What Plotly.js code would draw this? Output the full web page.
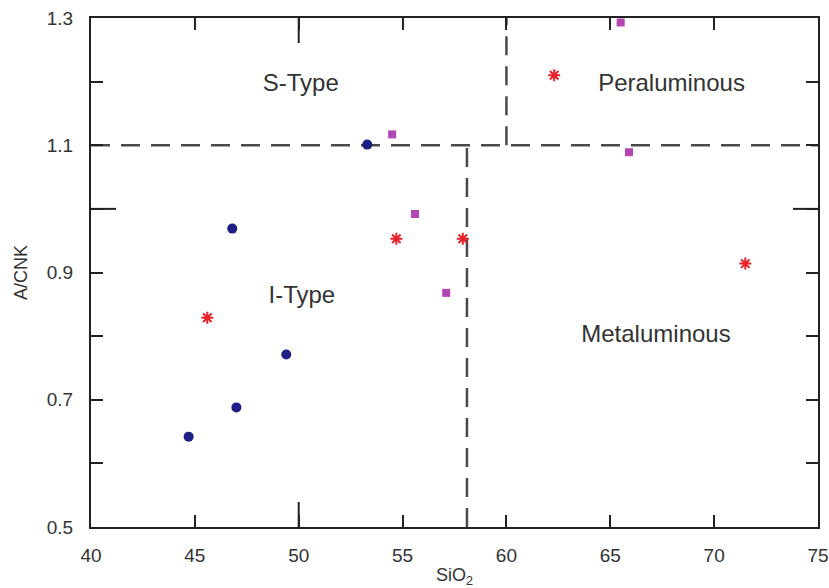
<!DOCTYPE html>
<html>
<head>
<meta charset="utf-8">
<script src="https://cdn.plot.ly/plotly-3.0.1.min.js"></script>
<style>html,body{margin:0;padding:0;background:#fff;}#chart{width:829px;height:588px;}</style>
</head>
<body>
<div id="chart"></div>
<script>
// Series values
const circleX = [44.7, 47.0, 49.4, 46.8, 53.3];
const circleY = [0.642, 0.688, 0.771, 0.969, 1.101];

const squareX = [54.5, 55.6, 57.1, 65.5, 65.9];
const squareY = [1.117, 0.992, 0.868, 1.293, 1.089];

const starX = [45.6, 54.7, 57.9, 62.3, 71.5];
const starY = [0.829, 0.953, 0.953, 1.210, 0.914];

// Classification boundaries
const boundH_X = [40, 75];      const boundH_Y = [1.1, 1.1];
const boundV1_X = [60, 60];     const boundV1_Y = [1.1, 1.3];
const boundV2_X = [58.1, 58.1]; const boundV2_Y = [0.5, 1.1];

// Field labels
const fieldNames = ['S-Type', 'Peraluminous', 'I-Type', 'Metaluminous'];
const fieldX = [50.1, 67.95, 50.15, 67.2];
const fieldY = [1.195, 1.195, 0.861, 0.800];

// Axis ticks
const xTicks = [40, 45, 50, 55, 60, 65, 70, 75];
const xTickText = ['40', '45', '50', '55', '60', '65', '70', '75'];
const yTicks = [0.5, 0.7, 0.9, 1.1, 1.3];
const yTickText = ['0.5', '0.7', '0.9', '1.1', '1.3'];
const yMinorTicks = [0.6, 0.8, 1.0, 1.2];

const dashStyle = {color: '#4a4a4a', width: 2.5, dash: '19px,11px'};
const FONT = 'Liberation Sans, Arial, sans-serif';

const traces = [
  {x: boundH_X, y: boundH_Y, mode: 'lines', line: dashStyle, hoverinfo: 'skip', showlegend: false},
  {x: boundV1_X, y: boundV1_Y, mode: 'lines', line: dashStyle, hoverinfo: 'skip', showlegend: false},
  {x: boundV2_X, y: boundV2_Y, mode: 'lines', line: dashStyle, hoverinfo: 'skip', showlegend: false},
  {x: circleX, y: circleY, mode: 'markers', showlegend: false,
   marker: {symbol: 'circle', size: 10, color: '#1e1e85'}},
  {x: squareX, y: squareY, mode: 'markers', showlegend: false,
   marker: {symbol: 'square', size: 8, color: '#b445b4'}},
  {x: starX, y: starY, mode: 'markers', showlegend: false,
   marker: {symbol: 'asterisk-open', size: 10, color: '#e8202a', line: {color: '#e8202a', width: 2}}},
  {x: fieldX, y: fieldY, mode: 'text', text: fieldNames, showlegend: false, hoverinfo: 'skip',
   textfont: {family: FONT, size: 24, color: '#333'}, textposition: 'middle center', cliponaxis: false}
];

// long ticks at x=50 and y=1.0 (about 25px), as fractions of the 727x509 plot area
const LX = 25 / 727, LY = 25 / 509;

const layout = {
  width: 829, height: 588,
  margin: {l: 91, r: 11, t: 18, b: 61, pad: 0},
  paper_bgcolor: '#fff', plot_bgcolor: '#fff',
  font: {family: FONT, color: '#333'},
  xaxis: {
    range: [40, 75], tickmode: 'array', tickvals: xTicks, ticktext: xTickText,
    ticks: 'inside', ticklen: 12, tickwidth: 2, tickcolor: '#222',
    showline: true, linecolor: '#222', linewidth: 2, mirror: 'allticks',
    showgrid: false, zeroline: false, tickfont: {size: 19, color: '#333'},
    ticklabelstandoff: 10,
    title: {text: 'SiO<sub>2</sub>', font: {size: 18, color: '#333'}, standoff: 4}
  },
  yaxis: {
    range: [0.5, 1.3], tickmode: 'array', tickvals: yTicks, ticktext: yTickText,
    ticks: 'inside', ticklen: 12, tickwidth: 2, tickcolor: '#222',
    minor: {tickmode: 'array', tickvals: yMinorTicks, ticks: 'inside', ticklen: 12, tickwidth: 2, tickcolor: '#222', showgrid: false},
    showline: true, linecolor: '#222', linewidth: 2, mirror: 'allticks',
    showgrid: false, zeroline: false, tickfont: {size: 19, color: '#333'},
    ticklabelstandoff: 12,
    title: {text: 'A/CNK', font: {size: 18, color: '#333'}, standoff: 14}
  },
  shapes: [
    {type: 'line', xref: 'x', x0: 50, x1: 50, yref: 'paper', y0: 0, y1: LY, line: {color: '#222', width: 2}},
    {type: 'line', xref: 'x', x0: 50, x1: 50, yref: 'paper', y0: 1, y1: 1 - LY, line: {color: '#222', width: 2}},
    {type: 'line', yref: 'y', y0: 1.0, y1: 1.0, xref: 'paper', x0: 0, x1: LX, line: {color: '#222', width: 2}},
    {type: 'line', yref: 'y', y0: 1.0, y1: 1.0, xref: 'paper', x0: 1, x1: 1 - LX, line: {color: '#222', width: 2}}
  ]
};

Plotly.newPlot('chart', traces, layout, {displayModeBar: false, staticPlot: true});
</script>
</body>
</html>
